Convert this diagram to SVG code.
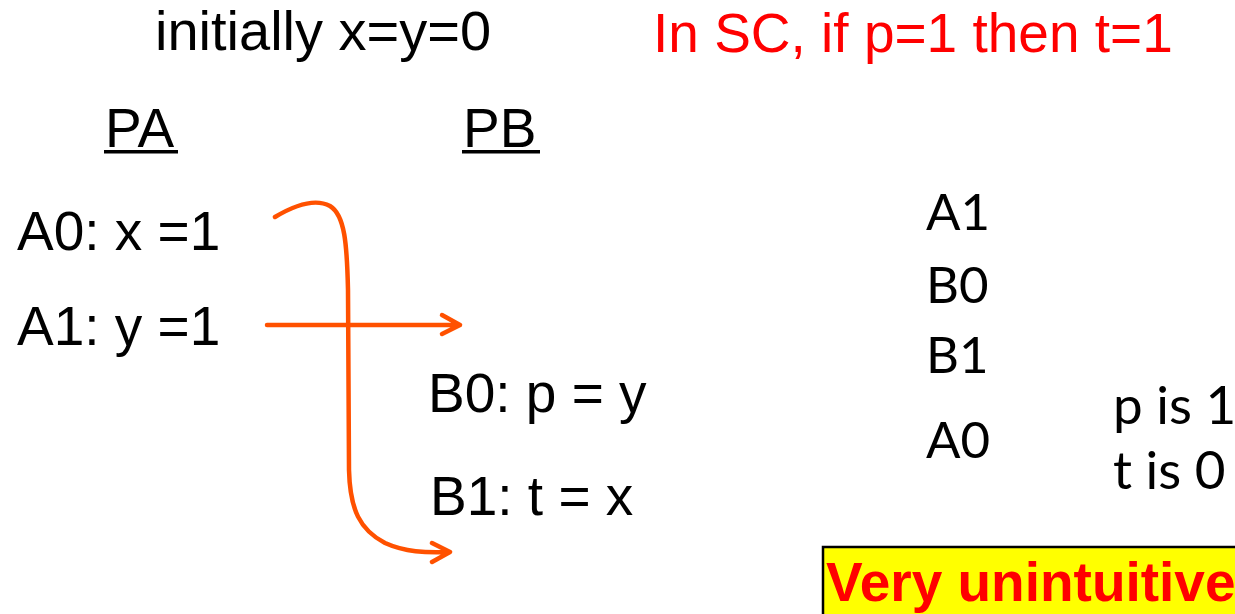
<svg xmlns="http://www.w3.org/2000/svg" width="1235" height="614" viewBox="0 0 1235 614">
<style>
.t{font-family:"Liberation Sans",Arial,sans-serif;font-size:55px;fill:#000}
.g{font-family:"Lato","Open Sans",sans-serif;font-size:51px;fill:#000}
.c{fill:none;stroke:#FF5100;stroke-width:4.5;stroke-linecap:round;stroke-linejoin:round}
</style>
<rect width="1235" height="614" fill="#fff"/>
<g id="title"><text class="t" x="155" y="50" style="font-size:56px">initially x=y=0</text></g>
<g id="sc"><text class="t" x="653" y="52" style="fill:#FF0000">In SC, if p=1 then t=1</text></g>
<g id="PA"><text class="t" x="105" y="147">PA</text><rect x="104" y="150" width="74" height="3.5"/></g>
<g id="PB"><text class="t" x="463" y="147">PB</text><rect x="462" y="150" width="78" height="3.5"/></g>
<g id="A0"><text class="t" x="17" y="250">A0: x =1</text></g>
<g id="A1"><text class="t" x="17" y="345">A1: y =1</text></g>
<g id="B0"><text class="t" x="428" y="412">B0: p = y</text></g>
<g id="B1"><text class="t" x="430" y="515">B1: t = x</text></g>
<g id="order">
<text class="g" x="926" y="230">A1</text>
<text class="g" x="926" y="303">B0</text>
<text class="g" x="926" y="373">B1</text>
<text class="g" x="926" y="458">A0</text>
</g>
<g id="result">
<text class="g" x="1113" y="424" style="font-size:53px">p is 1</text>
<text class="g" x="1113" y="489" style="font-size:53px">t is 0</text>
</g>
<g id="note">
<rect x="823" y="547" width="420" height="80" fill="#FFFF00" stroke="#000" stroke-width="2.5"/>
<text x="826" y="601" style="font-family:'Liberation Sans',Arial,sans-serif;font-size:55px;font-weight:bold;fill:#FF0000">Very unintuitive</text>
</g>
<g id="connectors">
<path class="c" d="M267,325 L460,325 M442,315 L460,325 L442,334"/>
<path class="c" d="M275,217 C295,205 315,198 330,206 C345,215 347,245 348,290 L349,470 C350,510 360,530 385,543 C405,552 425,553 450,552 M432,543 L450,552 L432,562"/>
</g>
</svg>
